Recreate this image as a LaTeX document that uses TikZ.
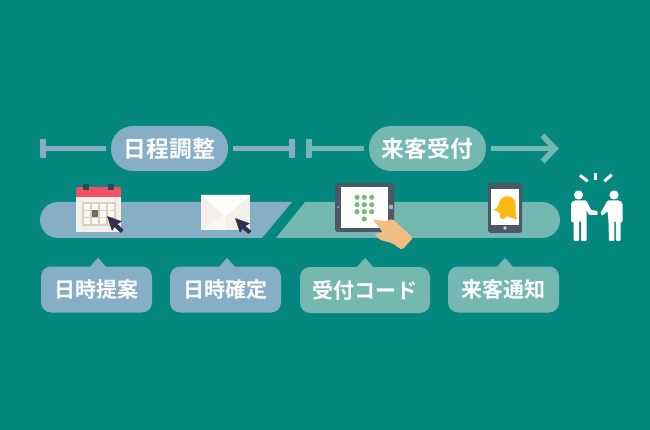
\documentclass[tikz,border=0pt]{standalone}
\usepackage{fontspec}
\setmainfont{Noto Sans CJK JP Bold}
\definecolor{bgc}{HTML}{03877F}
\definecolor{bluec}{HTML}{86AEC6}
\definecolor{tealc}{HTML}{75B8B1}
\definecolor{cardc}{HTML}{F3F0E9}
\definecolor{gridc}{HTML}{D8D0BC}
\definecolor{redc}{HTML}{EF5263}
\definecolor{navyc}{HTML}{2C4A5E}
\definecolor{cursorc}{HTML}{33304F}
\definecolor{slatec}{HTML}{4A5868}
\definecolor{handc}{HTML}{F2BC85}
\definecolor{dotc}{HTML}{7CB87C}
\definecolor{bellc}{HTML}{FDB813}
\definecolor{squarec}{HTML}{7A6A50}
\tikzset{
  pill/.style={fill=#1,text=white,rounded corners=22pt,minimum width=117pt,minimum height=45pt,inner sep=0pt,font=\fontsize{22.8}{24}\selectfont},
  callout/.style={fill=#1,text=white,rounded corners=10pt,minimum height=46pt,inner sep=0pt,font=\fontsize{21}{23}\selectfont},
  rule/.style={draw=#1,line width=5.5pt},
  gap/.style={shorten >=5pt},
  cursorshape/.style={fill=cursorc,rounded corners=0.5pt},
}
\begin{document}
\begin{tikzpicture}[x=1pt,y=-1pt]
\useasboundingbox (0,0) rectangle (650,430);
\fill[bgc] (0,0) rectangle (650,430);
% bars
\fill[bluec] (292,202) [rounded corners=18pt] -- (40,202) -- (40,238) [sharp corners] -- (262,238) -- cycle;
\fill[tealc] (276,238) -- (305,202) [rounded corners=18pt] -- (560,202) -- (560,238) [sharp corners] -- cycle;
% header pills
\node[pill=bluec] (p1) at (169.5,148.5) {日程調整};
\node[pill=tealc] (p2) at (427.5,148.5) {来客受付};
\coordinate (a1) at (42.5,148.5);
\coordinate (a2) at (291.5,148.5);
\coordinate (b1) at (308.5,148.5);
\coordinate (b2) at (555,148.5);
\draw[rule=bluec,gap] (a1) -- (p1.west);
\draw[rule=bluec,gap] (a2) -- (p1.east);
\draw[rule=tealc,gap] (b1) -- (p2.west);
\draw[rule=tealc,gap] (b2) -- (p2.east);
\fill[bluec] (39.5,139) rectangle (45.5,158);
\fill[bluec] (288.5,139) rectangle (294.5,158);
\fill[tealc] (305.5,139) rectangle (311.5,158);
\draw[tealc,line width=5.5pt] (542.5,135.5) -- (555,148.5) -- (542.5,161.5);
% callouts
\fill[bluec] (89,268) -- (96,260) -- (98,258) -- (100,260) -- (107,268) -- cycle;
\fill[bluec] (218,268) -- (225,260) -- (227,258) -- (229,260) -- (236,268) -- cycle;
\fill[tealc] (356,268) -- (363,260) -- (365,258) -- (367,260) -- (374,268) -- cycle;
\fill[tealc] (496,268) -- (503,260) -- (505,258) -- (507,260) -- (514,268) -- cycle;
\node[callout=bluec,minimum width=111pt] (c1) at (96.5,289.5) {\raisebox{-2pt}{日時提案}};
\node[callout=bluec,minimum width=111pt] (c2) at (225.5,289.5) {\raisebox{-2pt}{日時確定}};
\node[callout=tealc,minimum width=130pt] (c3) at (365,290) {\raisebox{-3pt}{受付コード}};
\node[callout=tealc,minimum width=111pt] (c4) at (503.5,289.5) {\raisebox{-2pt}{来客通知}};
% calendar
\fill[cardc] (76,196) rectangle (121,232);
\fill[redc] (76,190) [rounded corners=1.5pt] -- (76,187) -- (121,187) [sharp corners] -- (121,197) -- (76,197) -- cycle;
\fill[navyc] (82.5,184) rectangle (88.5,190);
\fill[navyc] (108,184) rectangle (114,190);
\draw[gridc,line width=1.3pt,fill=white!60!cardc] (83,203) rectangle (115,225);
\foreach \gx in {91,99,107} \draw[gridc,line width=1.3pt] (\gx,203) -- (\gx,225);
\foreach \gy in {210.3,217.7} \draw[gridc,line width=1.3pt] (83,\gy) -- (115,\gy);
\fill[squarec] (91.5,210.5) rectangle (98,217.5);
\fill[cursorshape] (107,216) -- (122,221.5) -- (117.5,224) -- (123.5,230) -- (120.5,233) -- (114.5,227) -- (112,231) -- cycle;
% envelope
\fill[cardc] (201,195) rectangle (250,230);
\fill[white!50!cardc] (201,230) -- (225,214) -- (225,230) -- cycle;
\fill[white!98!cardc] (201,195) -- (250,195) -- (225.5,216) -- cycle;
\fill[cursorshape] (235,218) -- (250,223.5) -- (245.5,226) -- (251.5,231) -- (248.5,234) -- (242.5,229) -- (240,233) -- cycle;
% tablet
\fill[slatec,rounded corners=2.5pt] (335,183) rectangle (394,232);
\fill[white!97!cardc] (341,187.5) rectangle (388,228);
\fill[gray!50] (338,207) circle (1pt);
\fill[gray!60!white] (391,207) circle (2.3pt);
\foreach \dx in {357,364.3,371.7} \foreach \dy in {197.3,204.7,211.7} \fill[dotc] (\dx,\dy) circle (2.6pt);
\fill[dotc] (364.3,219) circle (2.6pt);
\fill[handc,rounded corners=2pt] (372.5,219) -- (386,221.5) -- (392,218.5) -- (413,238) -- (402,250) -- (392,243) -- (380,240) -- (374,234) -- (383,232.5) -- cycle;
% phone
\fill[slatec,rounded corners=2.5pt] (488,183) rectangle (522,233);
\fill[white!97!cardc] (491,189) rectangle (519,225);
\fill[gray!35!white] (505,228) circle (1.9pt);
\fill[bellc] (503,215.5) circle (3.5pt);
\fill[bellc] (493.5,209.5) .. controls (499,209) and (498,203) .. (501,199) .. controls (504,195) and (513,195) .. (515,201) .. controls (517,207) and (514,213) .. (517,219) .. controls (510,218.5) and (501,214) .. (493.5,209.5) -- cycle;
% people
\draw[white,line width=3pt] (580,175.3) -- (587.7,181.3);
\draw[white,line width=3pt] (595.7,173) -- (595.7,180);
\draw[white,line width=3pt] (611.7,174.7) -- (604.3,181.3);
\fill[white] (578.5,195) circle (4.6pt);
\fill[white] (614,195) circle (4.6pt);
\fill[white,rounded corners=1pt] (571,207) [rounded corners=4pt] -- (571,200.5) [rounded corners=1pt] -- (586.5,200.5) -- (591,210) -- (597.5,211) -- (597.5,215) -- (589,215) -- (586.5,210) -- (586.5,241) -- (581,241) -- (581,221) -- (579,221) -- (579,241) -- (573.5,241) -- (573.5,222) -- (571,222) -- cycle;
\fill[white,rounded corners=1pt] (622.5,207) [rounded corners=4pt] -- (622.5,200.5) [rounded corners=1pt] -- (607.5,200.5) -- (600.5,213) -- (602,216) -- (607.5,211) -- (608.5,222) -- (609,241) -- (614.3,241) -- (614.3,221) -- (615.8,221) -- (615.8,241) -- (620.5,241) -- (620.5,222) -- (622.5,222) -- cycle;
\end{tikzpicture}
\end{document}
